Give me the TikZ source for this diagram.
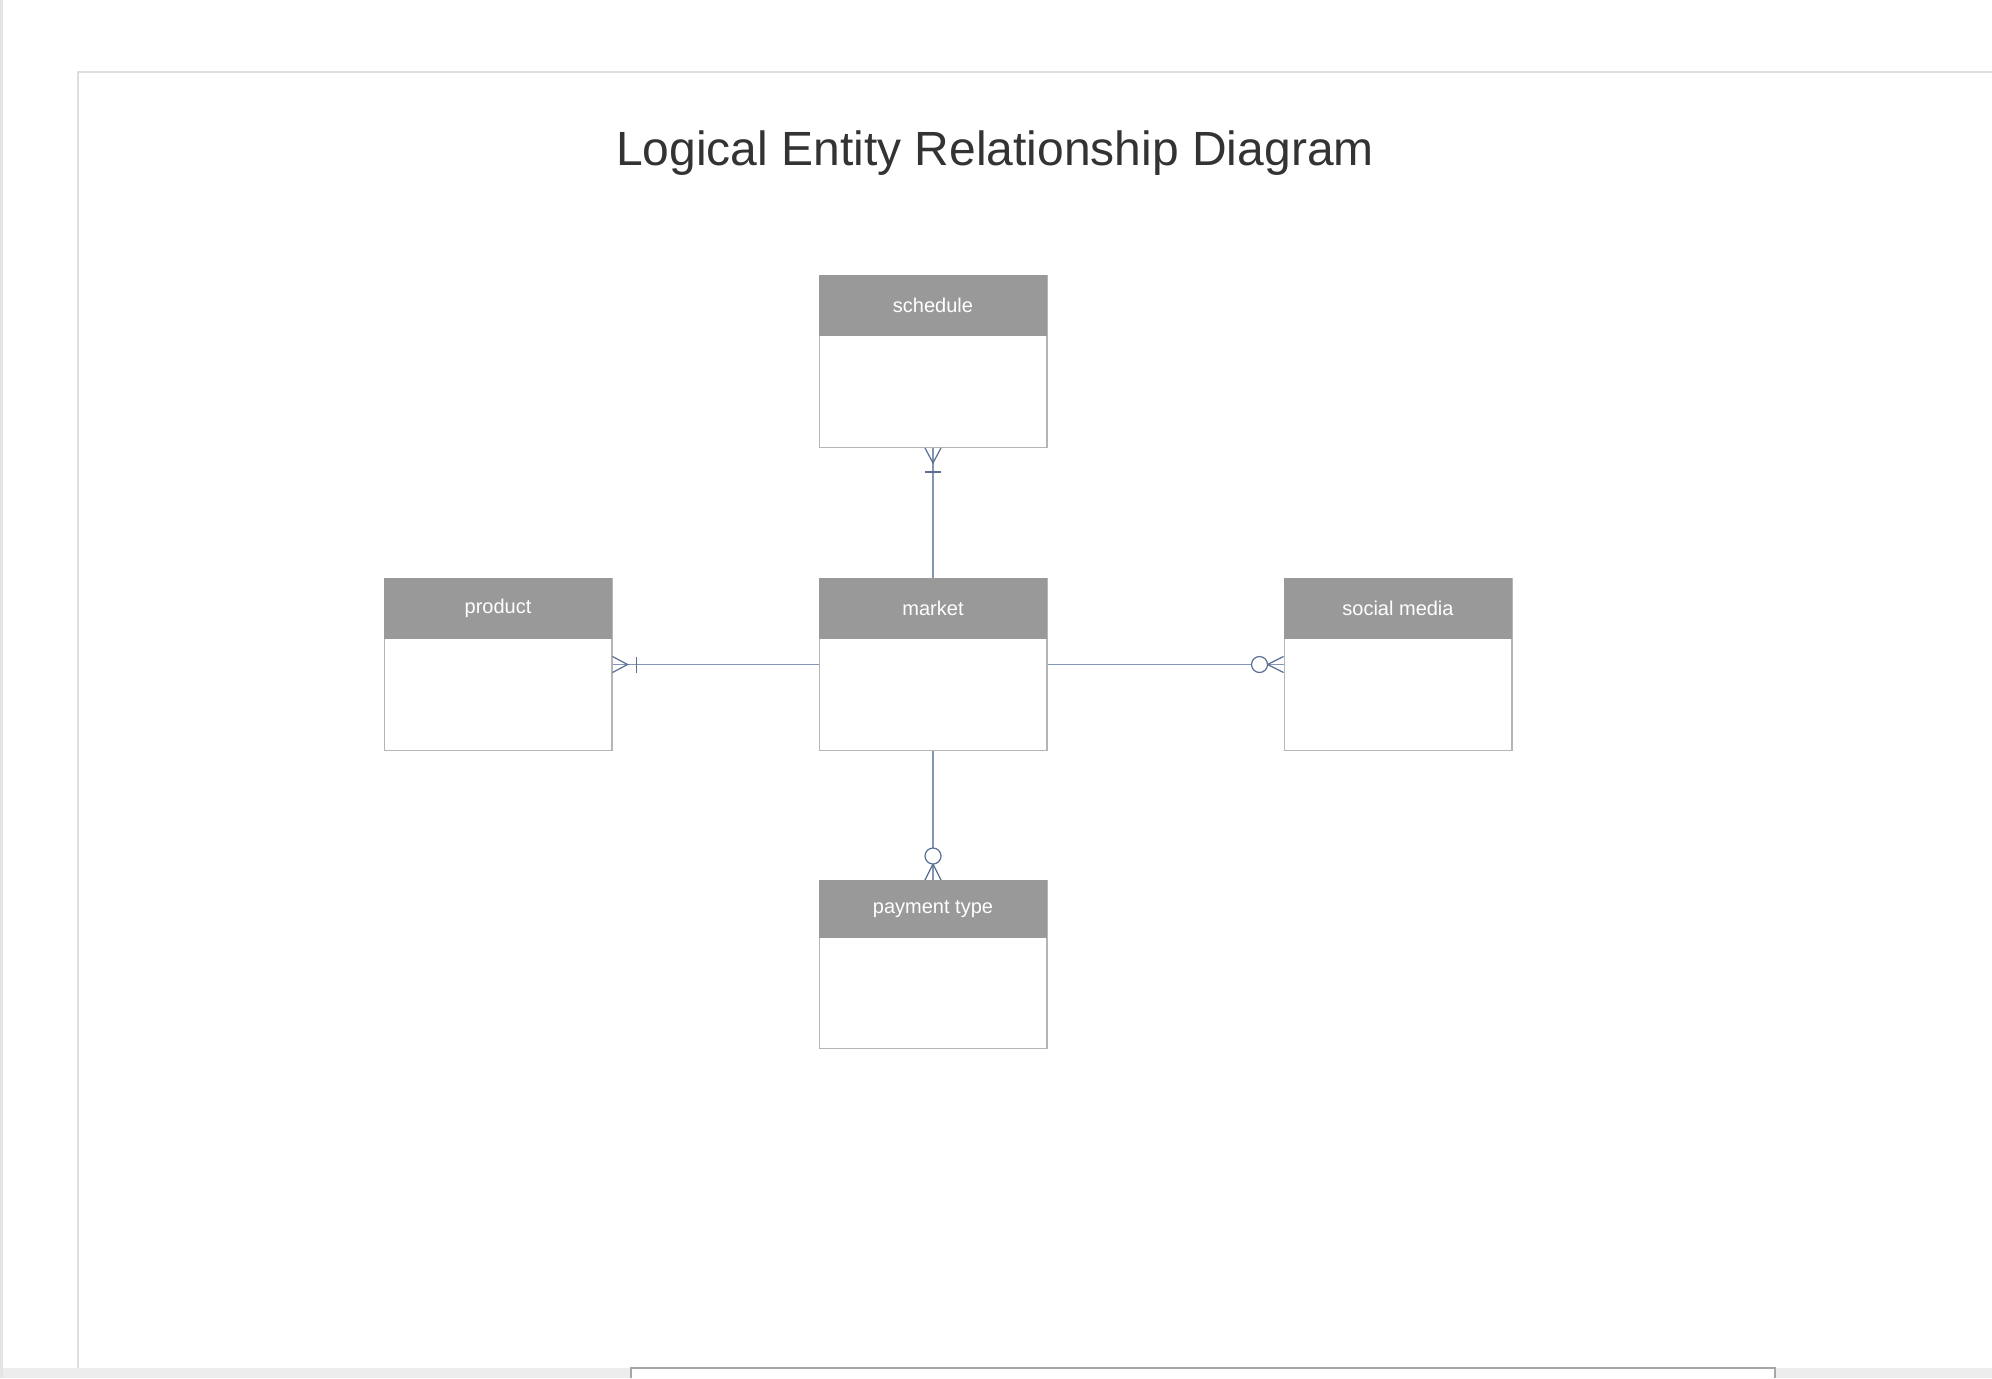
\documentclass[tikz,border=0pt]{standalone}
\usepackage{fontspec}
\setmainfont{Liberation Sans}
\usetikzlibrary{positioning,calc}
\definecolor{headgray}{HTML}{999999}
\definecolor{boxgray}{HTML}{B5B5B5}
\definecolor{framegray}{HTML}{DEDEDE}
\definecolor{linkblue}{HTML}{8496B4}
\definecolor{footblue}{HTML}{5A6D93}
\definecolor{titlegray}{HTML}{333333}
\tikzset{
  entity/.style={draw=boxgray,line width=0.75pt,fill=white,inner sep=0pt,
    minimum width=113.75pt,minimum height=85.75pt},
  head/.style={anchor=north,fill=headgray,draw=headgray,text=white,inner sep=0pt,
    minimum width=113.75pt,minimum height=30pt,font=\fontsize{10}{12}\selectfont},
  link/.style={draw=linkblue,line width=0.75pt},
  foot/.style={draw=footblue,line width=0.6pt},
}
\begin{document}
\begin{tikzpicture}[x=0.5pt,y=-0.5pt,node distance=65pt]
	\useasboundingbox (0,0) rectangle (1992,1378);
	% page
	\fill[white] (0,0) rectangle (1992,1378);
	\fill[framegray!80] (0,0) rectangle (3,1378);
	\draw[framegray,line width=0.6pt] (78,1368) -- (78,72) -- (1992,72);
	\fill[black!7] (3,1368) rectangle (1992,1378);
	\filldraw[fill=white,draw=black!35,line width=0.6pt] (631,1378) -- (631,1368) -- (1775,1368) -- (1775,1378);
	\node[anchor=base,text=titlegray,font=\fontsize{24}{28}\selectfont] (title) at (995,165) {Logical Entity Relationship Diagram};
	% entities
	\node[entity] (market) at (933,664.5) {};
	\node[entity,above=of market] (sched) {};
	\node[entity,left=103pt of market] (prod) {};
	\node[entity,right=118pt of market] (social) {};
	\node[entity,minimum height=83.75pt,below=64.5pt of market] (pay) {};
	\foreach \n/\t in {market/market,sched/schedule,prod/product,social/social media}
		\node[head] (\n-h) at (\n.north) {\t};
	\node[head,minimum height=28.5pt] (pay-h) at (pay.north) {payment type};
	% relationships
	\draw[link] (sched) -- (market);
	\draw[link] (market) -- (prod);
	\draw[link] (market) -- (social);
	\draw[link] (market) -- (pay);
	% schedule end: many + one
	\draw[foot] ($(sched.south)+(-8,0)$) -- ($(sched.south)+(0,15)$) -- ($(sched.south)+(8,0)$);
	\draw[foot] ($(sched.south)+(-8,24)$) -- ($(sched.south)+(8,24)$);
	% product end: many + one
	\draw[foot] ($(prod.east)+(0,-8)$) -- ($(prod.east)+(15,0)$) -- ($(prod.east)+(0,8)$);
	\draw[foot] ($(prod.east)+(24,-8)$) -- ($(prod.east)+(24,8)$);
	% social media end: many + zero
	\draw[foot] ($(social.west)+(0,-8)$) -- ($(social.west)+(-16,0)$) -- ($(social.west)+(0,8)$);
	\filldraw[foot,fill=white] ($(social.west)+(-24,0)$) circle[radius=4pt];
	% payment type end: many + zero
	\draw[foot] ($(pay.north)+(-8,0)$) -- ($(pay.north)+(0,-16)$) -- ($(pay.north)+(8,0)$);
	\filldraw[foot,fill=white] ($(pay.north)+(0,-24)$) circle[radius=4pt];
\end{tikzpicture}
\end{document}
